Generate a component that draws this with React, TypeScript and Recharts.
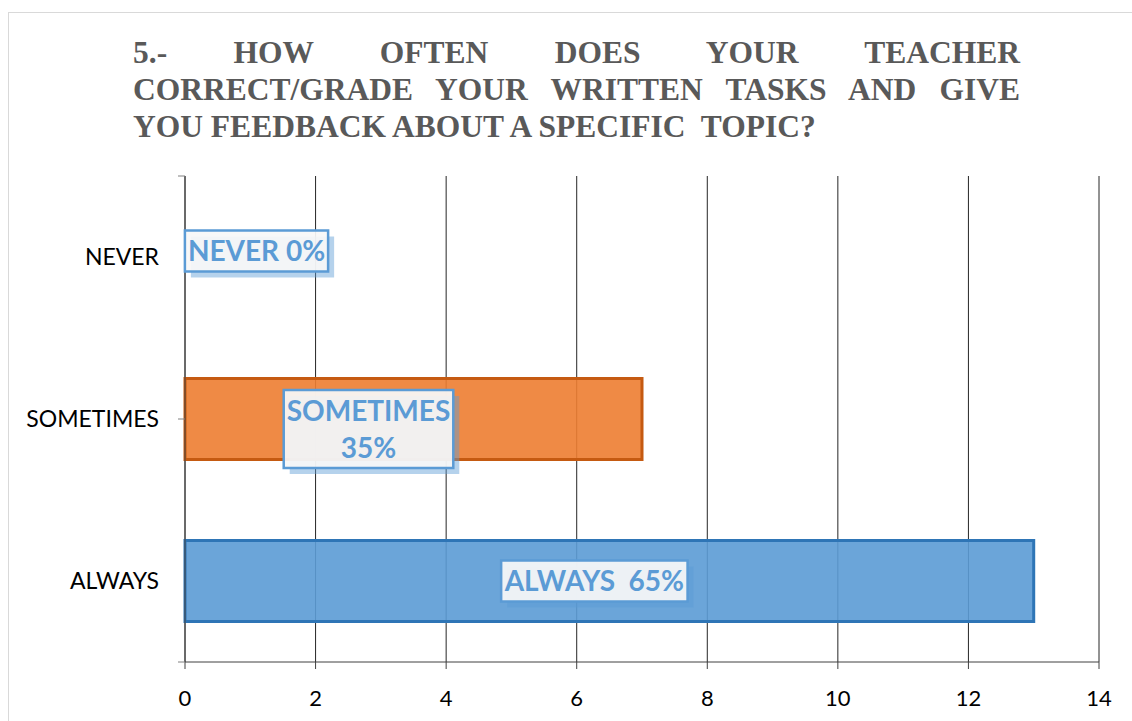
import { useLayoutEffect, useRef, useState } from 'react';
import {
  BarChart,
  Bar,
  XAxis,
  YAxis,
  CartesianGrid,
  Cell,
  LabelList,
} from 'recharts';

// answers, count of students, share in %
const categories = ['NEVER', 'SOMETIMES', 'ALWAYS'];
const counts = [0, 7, 13];
const labelLines = [['NEVER 0%'], ['SOMETIMES', '35%'], ['ALWAYS  65%']];
const xTicks = [0, 2, 4, 6, 8, 10, 12, 14];
const edgeTicks = [0, 1, 2, 3];

const titleLines = [
  '5.- HOW OFTEN DOES YOUR TEACHER',
  'CORRECT/GRADE YOUR WRITTEN TASKS AND GIVE',
  'YOU FEEDBACK ABOUT A SPECIFIC\u00a0 TOPIC?',
];

const fills = ['none', '#ED7D31', '#5B9BD5'];
const strokes = ['none', '#C55A11', '#2E75B6'];
// hand-moved data labels, offset from the bar centre
const labelNudge = [
  [71, -6],
  [-45, 10],
  [-15, 0],
];

const data = categories.map((name, i) => ({ name, value: counts[i], idx: i }));

const LINE_H = 37;

function LabelBox({ cx, cy, lines }: { cx: number; cy: number; lines: string[] }) {
  const ref = useRef<SVGTextElement>(null);
  const [w, setW] = useState(0);
  useLayoutEffect(() => {
    if (ref.current) setW(ref.current.getBBox().width);
  }, []);
  const h = lines.length * LINE_H + 4;
  const bw = w + 6;
  const left = cx - bw / 2;
  const top = cy - h / 2;
  return (
    <g>
      {w > 0 && (
        <>
          <rect x={left + 6} y={top + 6} width={bw} height={h} fill="#5B9BD5" fillOpacity={0.45} />
          <rect
            x={left}
            y={top}
            width={bw}
            height={h}
            fill="#f7f7f7"
            fillOpacity={0.93}
            stroke="#5B9BD5"
            strokeWidth={2.5}
          />
        </>
      )}
      <text
        ref={ref}
        textAnchor="middle"
        fill="#5B9BD5"
        fontFamily="Lato"
        fontWeight="bold"
        fontSize={28}
        style={{ whiteSpace: 'pre' }}
      >
        {lines.map((t, i) => (
          <tspan key={i} x={cx} y={cy - ((lines.length - 1) * LINE_H) / 2 + i * LINE_H + 10}>
            {t}
          </tspan>
        ))}
      </text>
    </g>
  );
}

const renderLabel = (props: any) => {
  const { x, y, width, height, value } = props;
  const i = categories.indexOf(value);
  if (i < 0) return null;
  const [dx, dy] = labelNudge[i];
  return (
    <LabelBox
      key={value}
      cx={x + width / 2 + dx}
      cy={y + height / 2 + dy}
      lines={labelLines[i]}
    />
  );
};

const noTick = () => <g />;

export default function App() {
  return (
    <div
      style={{
        position: 'fixed',
        left: 0,
        top: 0,
        width: 1132,
        height: 721,
        background: '#fff',
        overflow: 'hidden',
      }}
    >
      <div
        style={{
          position: 'absolute',
          left: 8,
          top: 12,
          width: 1200,
          height: 800,
          border: '1px solid #d9d9d9',
        }}
      />
      <div
        style={{
          position: 'absolute',
          left: 133,
          top: 34,
          width: 887,
          fontFamily: '"Liberation Serif", "Times New Roman", serif',
          fontWeight: 'bold',
          fontSize: 31.5,
          lineHeight: `${LINE_H}px`,
          color: '#595959',
        }}
      >
        <div style={{ textAlign: 'justify', textAlignLast: 'justify' }}>{titleLines[0]}</div>
        <div style={{ textAlign: 'justify', textAlignLast: 'justify' }}>{titleLines[1]}</div>
        <div style={{ whiteSpace: 'pre' }}>{titleLines[2]}</div>
      </div>
      <div style={{ position: 'absolute', left: 0, top: 0 }}>
        <BarChart
          width={1132}
          height={721}
          data={data}
          layout="vertical"
          margin={{ top: 176, right: 33, bottom: 0, left: 0 }}
          barCategoryGap="25%"
        >
          <CartesianGrid horizontal={false} vertical stroke="#262626" />
          <XAxis
            type="number"
            domain={[0, 14]}
            ticks={xTicks}
            height={59}
            tickSize={7}
            tickMargin={21}
            interval={0}
            stroke="#404040"
            tick={{ fill: '#000', fontFamily: 'Lato', fontSize: 22 }}
          />
          <YAxis
            yAxisId={0}
            type="number"
            domain={[0, 3]}
            ticks={edgeTicks}
            width={10}
            tickSize={7}
            tick={noTick}
            axisLine={{ stroke: '#404040' }}
            tickLine={{ stroke: '#808080' }}
          />
          <YAxis
            yAxisId="labels"
            type="category"
            dataKey="name"
            width={175}
            axisLine={false}
            tickLine={false}
            tickSize={0}
            tickMargin={16}
            tick={{ fill: '#000', fontFamily: 'Lato', fontSize: 23 }}
          />
          <Bar
            yAxisId="labels"
            dataKey="value"
            isAnimationActive={false}
            strokeWidth={3}
            fillOpacity={0.9}
            minPointSize={1}
          >
            {data.map((d) => (
              <Cell key={d.name} fill={fills[d.idx]} stroke={strokes[d.idx]} />
            ))}
            <LabelList dataKey="name" content={renderLabel} />
          </Bar>
        </BarChart>
      </div>
    </div>
  );
}
